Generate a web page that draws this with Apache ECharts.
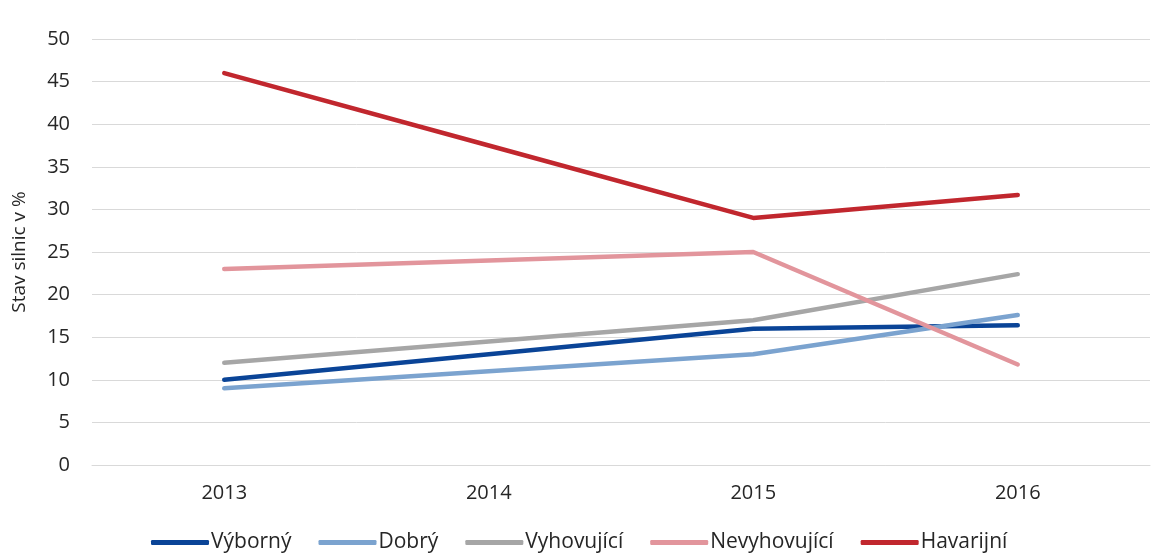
<!DOCTYPE html>
<html>
<head>
<meta charset="utf-8">
<script src="https://cdn.jsdelivr.net/npm/echarts@6/dist/echarts.min.js"></script>
<style>
  html, body { margin: 0; padding: 0; background: #fff; overflow: hidden; }
  #chart { width: 1173px; height: 553px; }
</style>
</head>
<body>
<div id="chart"></div>
<script>
// Road condition by year (share of roads, %)
const years = ['2013', '2014', '2015', '2016'];
const vyborny = [10, 13, 16, 16.4];
const dobry = [9, 11, 13, 17.6];
const vyhovujici = [12, 14.5, 17, 22.4];
const nevyhovujici = [23, 24, 25, 11.8];
const havarijni = [46, 37.5, 29, 31.7];
const seriesNames = ['Výborný', 'Dobrý', 'Vyhovující', 'Nevyhovující', 'Havarijní'];
const seriesColors = ['#0a4497', '#7ba3cf', '#a6a6a6', '#e2959c', '#c1272e'];
const yTicks = { min: 0, max: 50, interval: 5 };

const seriesData = [vyborny, dobry, vyhovujici, nevyhovujici, havarijni];
const textFont = '"Open Sans", "Noto Sans", sans-serif';

const chart = echarts.init(document.getElementById('chart'));
chart.setOption({
  animation: false,
  backgroundColor: '#ffffff',
  grid: { left: 92, right: 23, top: 39, bottom: 88 },
  xAxis: {
    type: 'category',
    data: years,
    boundaryGap: true,
    axisLine: { show: true, lineStyle: { color: '#d9d9d9', width: 1 } },
    axisTick: { show: false },
    axisLabel: { color: '#262626', fontSize: 20, fontFamily: textFont, margin: 18 }
  },
  yAxis: {
    type: 'value',
    min: yTicks.min,
    max: yTicks.max,
    interval: yTicks.interval,
    name: 'Stav silnic v %',
    nameLocation: 'middle',
    nameGap: 63,
    nameRotate: 90,
    nameTextStyle: { color: '#262626', fontSize: 19, fontFamily: textFont },
    axisLine: { show: false },
    axisTick: { show: false },
    axisLabel: { color: '#262626', fontSize: 20, fontFamily: textFont, margin: 22 },
    splitLine: { lineStyle: { color: '#d9d9d9', width: 1 } }
  },
  legend: {
    top: 527,
    left: 146,
    itemWidth: 58,
    itemHeight: 5,
    itemGap: 27,
    icon: 'roundRect',
    textStyle: { color: '#262626', fontSize: 21, fontFamily: textFont, padding: [0, 0, 0, -3] },
    data: seriesNames
  },
  series: seriesNames.map((name, i) => ({
    name: name,
    type: 'line',
    data: seriesData[i],
    symbol: 'none',
    lineStyle: { width: 4.5, color: seriesColors[i], cap: 'round', join: 'round' },
    itemStyle: { color: seriesColors[i] }
  }))
});
</script>
</body>
</html>
